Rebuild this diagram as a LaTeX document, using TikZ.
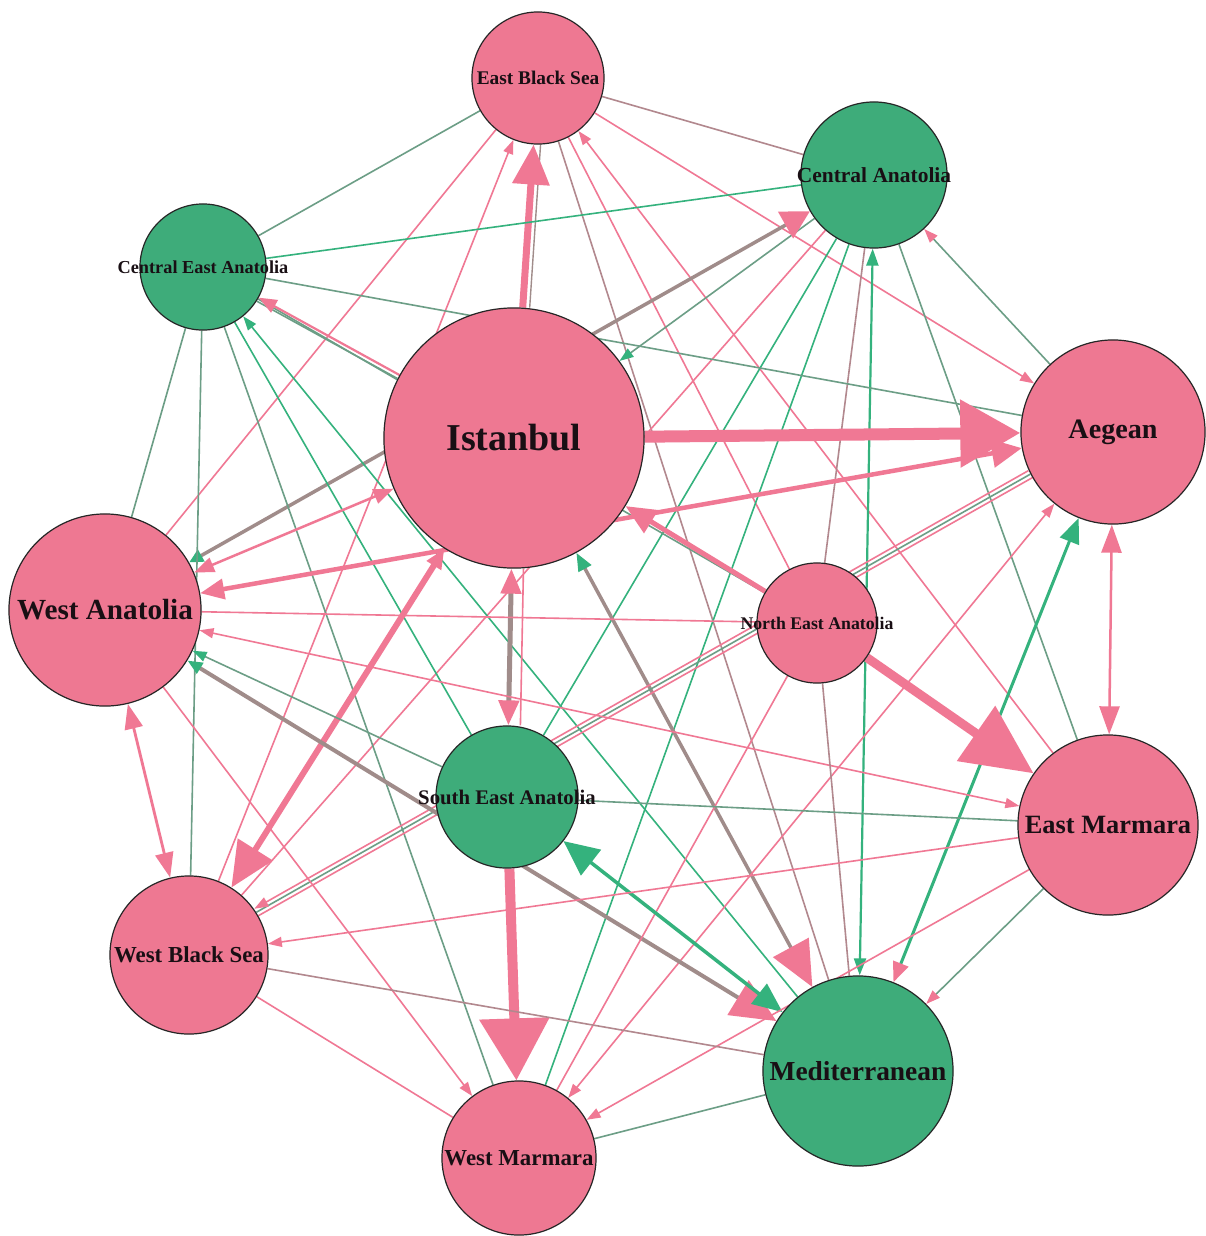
\documentclass[tikz,border=0pt]{standalone}
\usepackage{fontspec}
\setmainfont{Liberation Serif}
\usetikzlibrary{arrows.meta}
\definecolor{pinkN}{RGB}{238,120,146}
\definecolor{greenN}{RGB}{62,172,122}
\definecolor{pinkE}{RGB}{240,120,148}
\definecolor{greenE}{RGB}{52,178,125}
\definecolor{ggE}{RGB}{108,158,134}
\definecolor{pgE}{RGB}{178,136,142}
\definecolor{gxE}{RGB}{160,140,138}
\definecolor{labC}{RGB}{25,15,20}
\newcommand{\lf}[1]{\fontsize{#1}{#1}\selectfont\bfseries}
\pgfdeclarelayer{background}
\pgfsetlayers{background,main}
\tikzset{
  nodeP/.style={circle, draw=black!85, line width=0.012cm, fill=pinkN, inner sep=0pt},
  nodeG/.style={circle, draw=black!85, line width=0.012cm, fill=greenN, inner sep=0pt},
  lab/.style={text=labC, inner sep=0pt},
  tl/.style={line width=0.016cm},
  pk/.style={draw=pinkE},
  gn/.style={draw=greenE},
  gg/.style={draw=ggE},
  pg/.style={draw=pgE},
  gx/.style={draw=gxE},
  sarr/.style={-{Triangle[length=0.14cm,width=0.1cm]}},
  sarrb/.style={{Triangle[length=0.14cm,width=0.1cm]}-{Triangle[length=0.14cm,width=0.1cm]}},
  carr/.style={-{Triangle[length=0.14cm,width=0.1cm,color=#1]}}
}
\begin{document}
\begin{tikzpicture}[x=0.01cm,y=-0.01cm]
\useasboundingbox (0,0) rectangle (1206,1236);

% nodes
\node[nodeP, minimum size=1.32cm] (ebs) at (538,78) {};
\node[nodeG, minimum size=1.46cm] (ca) at (874,175) {};
\node[nodeG, minimum size=1.26cm] (cea) at (203,267) {};
\node[nodeP, minimum size=2.60cm] (ist) at (514,438) {};
\node[nodeP, minimum size=1.84cm] (aeg) at (1113,432) {};
\node[nodeP, minimum size=1.92cm] (wa) at (105,610) {};
\node[nodeP, minimum size=1.20cm] (nea) at (817,623) {};
\node[nodeG, minimum size=1.42cm] (sea) at (507,797) {};
\node[nodeP, minimum size=1.80cm] (em) at (1108,825) {};
\node[nodeP, minimum size=1.58cm] (wbs) at (189,955) {};
\node[nodeG, minimum size=1.90cm] (med) at (858,1071) {};
\node[nodeP, minimum size=1.54cm] (wm) at (519,1158) {};

\node[lab, font=\lf{5.5}] (ebsL) at (ebs) {East Black Sea};
\node[lab, font=\lf{6.1}] (caL) at (ca) {Central Anatolia};
\node[lab, font=\lf{5.2}] (ceaL) at (cea) {Central East Anatolia};
\node[lab, font=\lf{10.8}] (istL) at (ist) {Istanbul};
\node[lab, font=\lf{8}] (aegL) at (aeg) {Aegean};
\node[lab, font=\lf{8.3}] (waL) at (wa) {West Anatolia};
\node[lab, font=\lf{5.05}] (neaL) at (nea) {North East Anatolia};
\node[lab, font=\lf{5.9}] (seaL) at (sea) {South East Anatolia};
\node[lab, font=\lf{7.5}] (emL) at (em) {East Marmara};
\node[lab, font=\lf{6.5}] (wbsL) at (wbs) {West Black Sea};
\node[lab, font=\lf{7.8}] (medL) at (med) {Mediterranean};
\node[lab, font=\lf{6.5}] (wmL) at (wm) {West Marmara};

\begin{pgfonlayer}{background}
\fill[white] (0,0) rectangle (1206,1236);
% East Black Sea
\draw[tl,gg] (ebs) -- (cea);
\draw[tl,pg] (ebs) -- (ca);
\draw[gx,line width=0.014cm,transform canvas={xshift=0.07cm}] (ist) -- (ebs);
\draw[pk,line width=0.07cm,-{Triangle[length=0.4cm,width=0.36cm]}] (ist) -- (ebs);
\draw[tl,pk,sarr] (wbs) -- (ebs);
\draw[tl,pk] (ebs) -- (wa);
\draw[tl,pk,sarr] (ebs) -- (aeg);
\draw[tl,pk] (ebs) -- (nea);
\draw[tl,pk,sarr] (em) -- (ebs);
\draw[tl,pg] (ebs) -- (med);
% Central Anatolia
\draw[tl,gn] (cea) -- (ca);
\draw[tl,gg,carr=greenE] (ca) -- (ist);
\draw[gx,line width=0.035cm,{Triangle[length=0.14cm,width=0.13cm,color=greenE]}-{Triangle[length=0.28cm,width=0.3cm,color=pinkE]}] (wa) -- (ca);
\draw[tl,pk] (wbs) -- (ca);
\draw[tl,gg,carr=pinkE] (aeg) -- (ca);
\draw[tl,gn] (ca) -- (sea);
\draw[tl,gn] (ca) -- (wm);
\draw[tl,pg] (ca) -- (nea);
\draw[gn,line width=0.022cm,{Triangle[length=0.17cm,width=0.12cm]}-{Triangle[length=0.17cm,width=0.12cm]}] (ca) -- (med);
\draw[tl,gg] (ca) -- (em);
% Central East Anatolia
\draw[tl,gg] (cea) -- (aeg);
\draw[tl,gg,transform canvas={xshift=-0.02cm,yshift=-0.035cm}] (ist) -- (cea);
\draw[tl,gg] (nea) -- (cea);
\draw[pk,line width=0.022cm,-{Triangle[length=0.18cm,width=0.14cm]}] (ist) -- (cea);
\draw[tl,gg] (cea) -- (wa);
\draw[tl,gg] (cea) -- (wbs);
\draw[tl,gg] (cea) -- (wm);
\draw[tl,gn] (cea) -- (sea);
\draw[tl,gn,sarr] (med) -- (cea);
% Istanbul
\draw[pk,line width=0.12cm,-{Triangle[length=0.6cm,width=0.65cm]}] (ist) -- (aeg);
\draw[pk,line width=0.045cm,{Triangle[length=0.3cm,width=0.28cm]}-{Triangle[length=0.24cm,width=0.2cm]}] (aeg) -- (wa);
\draw[pk,line width=0.05cm,-{Triangle[length=0.3cm,width=0.26cm]}] (nea) -- (ist);
\draw[pk,line width=0.025cm,{Triangle[length=0.2cm,width=0.15cm]}-{Triangle[length=0.2cm,width=0.15cm]}] (ist) -- (wa);
\draw[pk,line width=0.06cm,{Triangle[length=0.2cm,width=0.16cm]}-{Triangle[length=0.45cm,width=0.4cm]}] (ist) -- (wbs);
\draw[gx,line width=0.05cm,{Triangle[length=0.25cm,width=0.2cm,color=pinkE]}-{Triangle[length=0.25cm,width=0.2cm,color=pinkE]}] (ist) -- (sea);
\draw[tl,pk,transform canvas={xshift=0.12cm}] (ist) -- (sea);
\draw[gx,line width=0.035cm,{Triangle[length=0.18cm,width=0.14cm,color=greenE]}-{Triangle[length=0.45cm,width=0.4cm,color=pinkE]}] (ist) -- (med);
% Aegean
\draw[pk,line width=0.025cm,{Triangle[length=0.28cm,width=0.2cm]}-{Triangle[length=0.28cm,width=0.2cm]}] (aeg) -- (em);
\draw[gn,line width=0.03cm,{Triangle[length=0.25cm,width=0.2cm]}-{Triangle[length=0.2cm,width=0.16cm,color=pinkE]}] (aeg) -- (med);
\draw[tl,pk,sarrb] (wm) -- (aeg);
\draw[tl,pk] (wbs) -- (aeg);
\draw[tl,gg,transform canvas={xshift=-0.02cm,yshift=0.035cm}] (wbs) -- (aeg);
\draw[tl,pk,transform canvas={xshift=-0.04cm,yshift=0.07cm},sarr] (aeg) -- (wbs);
% West Anatolia
\draw[tl,pk] (wa) -- (nea);
\draw[tl,pk,sarrb] (wa) -- (em);
\draw[gx,line width=0.04cm,{Triangle[length=0.15cm,width=0.12cm,color=greenE]}-{Triangle[length=0.45cm,width=0.4cm,color=pinkE]}] (wa) -- (med);
\draw[tl,gg,carr=greenE] (sea) -- (wa);
\draw[tl,pk,sarr] (wa) -- (wm);
\draw[pk,line width=0.028cm,{Triangle[length=0.25cm,width=0.18cm]}-{Triangle[length=0.25cm,width=0.18cm]}] (wa) -- (wbs);
% North East Anatolia
\draw[pk,line width=0.09cm,-{Triangle[length=0.7cm,width=0.65cm]}] (nea) -- (em);
\draw[tl,pg] (nea) -- (med);
\draw[tl,pk] (nea) -- (wm);
% South East Anatolia
\draw[pk,line width=0.1cm,-{Triangle[length=0.62cm,width=0.68cm]}] (sea) -- (wm);
\draw[gn,line width=0.035cm,{Triangle[length=0.35cm,width=0.32cm]}-{Triangle[length=0.3cm,width=0.25cm]}] (sea) -- (med);
\draw[tl,gg] (sea) -- (em);
% East Marmara
\draw[tl,pk,sarr] (em) -- (wbs);
\draw[tl,gg,carr=pinkE] (em) -- (med);
\draw[tl,pk,sarr] (em) -- (wm);
% West Black Sea, West Marmara
\draw[tl,pg] (wbs) -- (med);
\draw[tl,pk] (wbs) -- (wm);
\draw[tl,gg] (wm) -- (med);
\end{pgfonlayer}
\end{tikzpicture}
\end{document}
